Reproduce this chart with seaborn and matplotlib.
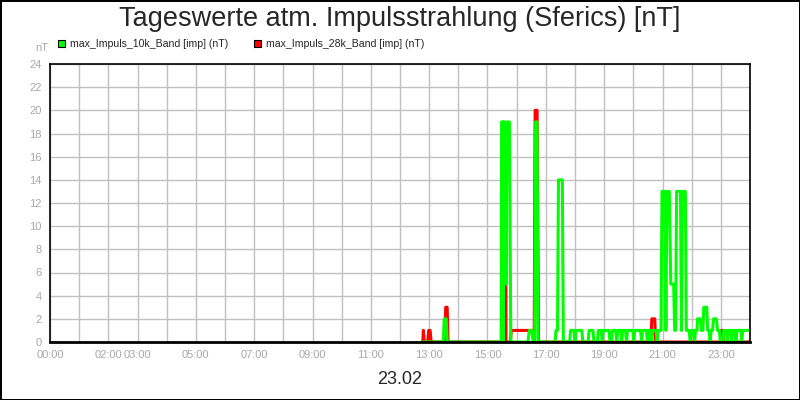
import matplotlib
matplotlib.use("Agg")
import matplotlib.pyplot as plt
import seaborn as sns
import pandas as pd
from matplotlib.patches import Patch

# Messwerte 23.02 (Zeitpunkt HH:MM, Wert in nT)
r_time = ["12:45", "12:47", "12:48", "12:50", "12:57", "12:59", "13:02", "13:04",
          "13:32", "13:34", "13:37", "13:39",
          "15:34", "15:36", "15:37", "15:38", "15:47", "15:49", "16:34", "16:36",
          "16:38", "16:42", "16:45",
          "20:36", "20:38", "20:44", "20:46",
          "23:00", "23:01", "23:04", "23:05", "24:00"]
r_val = [0, 0, 1, 0, 0, 1, 1, 0,
         0, 3, 3, 0,
         0, 18, 18, 0, 0, 1, 1, 0,
         20, 20, 0,
         0, 2, 2, 0,
         0, 1, 1, 0, 0]

g_time = ["12:45", "13:29", "13:31", "13:35", "13:37",
          "15:28", "15:29", "15:31", "15:32", "15:33", "15:36", "15:38", "15:40", "15:45", "15:48",
          "16:23", "16:26", "16:31", "16:34",
          "16:37", "16:39", "16:42", "16:44",
          "17:19", "17:21", "17:24", "17:26", "17:34", "17:36",
          "17:49", "17:51", "17:58", "18:00", "18:02", "18:14", "18:16",
          "18:27", "18:29", "18:37", "18:39",
          "18:46", "18:48", "18:54", "18:56", "18:58", "19:10", "19:12",
          "19:15", "19:17", "19:24", "19:26", "19:28", "19:34", "19:36", "19:38", "19:44",
          "19:46", "19:48", "19:59", "20:01", "20:03", "20:15", "20:17", "20:19", "20:27",
          "20:29", "20:31", "20:36", "20:38", "20:40", "20:47", "20:49", "20:51", "20:57",
          "20:59", "21:05", "21:07", "21:09", "21:14", "21:17", "21:23",
          "21:25", "21:27", "21:29", "21:37", "21:39", "21:41", "21:47", "21:49",
          "21:55", "21:57", "21:59", "22:04", "22:06", "22:08", "22:11", "22:12", "22:18",
          "22:20", "22:23", "22:25", "22:31", "22:33", "22:36", "22:38", "22:40", "22:43",
          "22:45", "22:51", "22:53", "22:57", "22:59", "23:04", "23:06", "23:11", "23:13",
          "23:15", "23:20", "23:22", "23:24", "23:29", "23:31", "23:33", "23:41", "23:43",
          "23:45", "24:00"]
g_val = [0, 0, 2, 2, 0,
         0, 19, 19, 0, 19, 19, 5, 19, 19, 0,
         0, 1, 1, 0,
         0, 19, 19, 0,
         0, 1, 1, 14, 14, 0,
         0, 1, 1, 0, 1, 1, 0,
         0, 1, 1, 0,
         0, 1, 1, 0, 1, 1, 0,
         0, 1, 1, 0, 1, 1, 0, 1, 1,
         0, 1, 1, 0, 1, 1, 0, 1, 1,
         0, 1, 1, 0, 1, 1, 0, 1, 1,
         13, 13, 1, 13, 13, 5, 5,
         1, 1, 13, 13, 1, 13, 13, 1,
         1, 0, 1, 1, 0, 1, 1, 2, 2,
         1, 1, 3, 3, 1, 1, 0, 1, 1,
         2, 2, 1, 1, 0, 0, 1, 1, 0,
         1, 1, 0, 1, 1, 0, 1, 1, 0,
         1, 1]

label_10k = "max_Impuls_10k_Band [imp] (nT)"
label_28k = "max_Impuls_28k_Band [imp] (nT)"
xtick_labels = {0: "00:00", 2: "02:00", 3: "03:00", 5: "05:00", 7: "07:00", 9: "09:00",
                11: "11:00", 13: "13:00", 15: "15:00", 17: "17:00", 19: "19:00",
                21: "21:00", 23: "23:00"}


def to_hours(t):
    h, m = t.split(":")
    return int(h) + int(m) / 60


df_r = pd.DataFrame({"zeit": [to_hours(t) for t in r_time], "wert": r_val})
df_g = pd.DataFrame({"zeit": [to_hours(t) for t in g_time], "wert": g_val})

sns.set_style("white")
plt.rcParams["font.family"] = ["Liberation Sans", "DejaVu Sans"]

fig = plt.figure(figsize=(8, 4), dpi=100)
fig.patch.set_edgecolor("black")
fig.patch.set_linewidth(2)
ax = fig.add_axes([0.0625, 0.145, 0.875, 0.695])

sns.lineplot(data=df_r, x="zeit", y="wert", color="#ff0000", linewidth=2.2,
             estimator=None, ax=ax)
sns.lineplot(data=df_g, x="zeit", y="wert", color="#00ff00", linewidth=2.2,
             estimator=None, ax=ax)

ax.set_xlim(0, 24)
ax.set_ylim(0, 24)
ax.set_xticks(range(0, 25))
ax.set_xticklabels([xtick_labels.get(h, "") for h in range(0, 25)])
ax.set_yticks(range(0, 25, 2))
ax.grid(True, color="#c0c0c0", linewidth=1)
ax.set_axisbelow(True)
ax.set_xlabel("")
ax.set_ylabel("")
ax.tick_params(axis="both", colors="#b0b0b0", labelsize=8, length=4, width=1,
               direction="out", pad=2)
ax.tick_params(axis="both", labelcolor="#a8a8a8")
for s in ax.spines.values():
    s.set_color("black")
    s.set_linewidth(1.2)
ax.spines["bottom"].set_linewidth(2)

fig.text(0.5, 1 - 19 / 400, "Tageswerte atm. Impulsstrahlung (Sferics) [nT]",
         ha="center", va="center", fontsize=19.5)
fig.text(42 / 800, 1 - 48 / 400, "nT", ha="center", va="center", fontsize=8,
         color="#a8a8a8")
fig.text(0.5, 1 - 380 / 400, "23.02", ha="center", va="center", fontsize=13)

handles = [Patch(facecolor="#00ff00", edgecolor="black", linewidth=0.8, label=label_10k),
           Patch(facecolor="#ff0000", edgecolor="black", linewidth=0.8, label=label_28k)]
fig.legend(handles=handles, loc="center left", bbox_to_anchor=(58 / 800, 1 - 44 / 400),
           ncol=2, frameon=False, fontsize=7.6, handlelength=0.65, handleheight=0.65,
           handletextpad=0.5, columnspacing=2.4, borderaxespad=0, borderpad=0)

plt.savefig("out.png", dpi=100, edgecolor=fig.get_edgecolor())
plt.close()
